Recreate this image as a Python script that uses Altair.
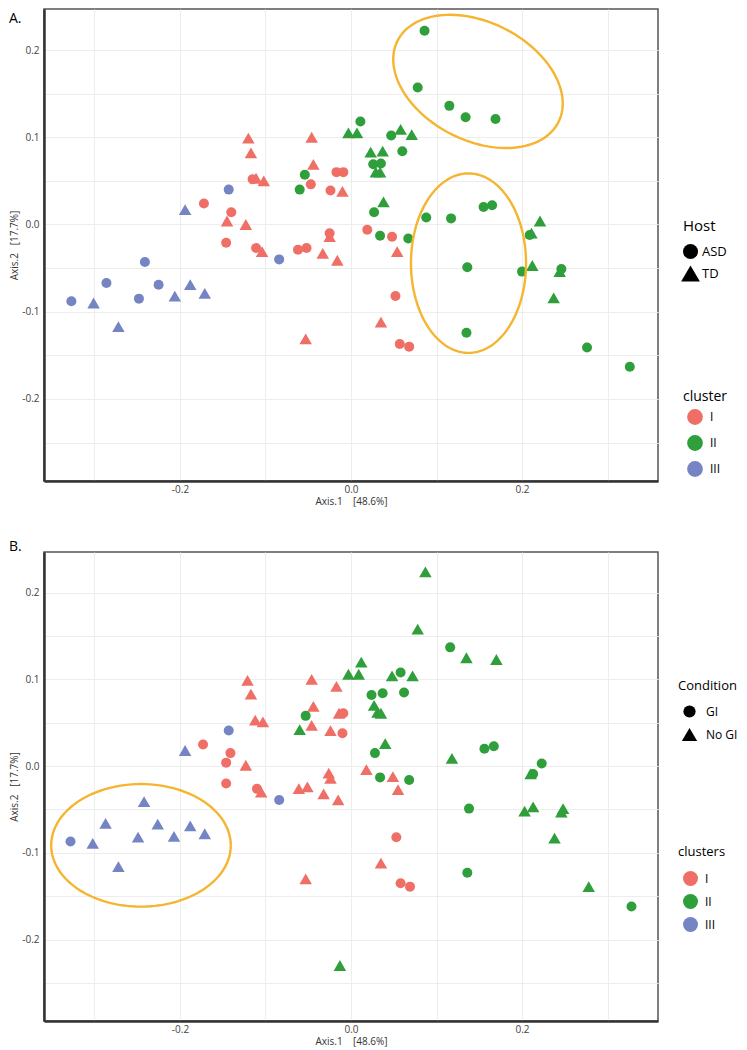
import numpy as np
import pandas as pd
import altair as alt

# ---------------- data ----------------
CLUSTERS = ["I", "II", "III"]
COLORS = ["#EF6F67", "#2E9F3B", "#7585C4"]
TRI = "M-1.25,1.08L1.25,1.08L0,-1.08Z"

# Panel A  (shape = Host)
A_x = [-0.120, -0.046, -0.117, -0.044, -0.017, -0.009, -0.115, -0.111, -0.102, -0.047,
       -0.024, -0.010, -0.172, -0.140, -0.145, -0.123, 0.019, -0.025, -0.025, -0.146,
       -0.111, -0.104, -0.062, -0.052, -0.033, -0.016, 0.048, 0.054, 0.052, 0.035,
       0.057, 0.068, -0.053,
       0.011, -0.003, 0.007, 0.023, 0.037, -0.054, -0.060, 0.027, 0.038, 0.034,
       0.086, 0.078, 0.115, 0.134, 0.169, 0.047, 0.058, 0.071, 0.060, 0.026,
       0.035, 0.029, 0.034, 0.088, 0.117, 0.155, 0.165, 0.067, 0.221, 0.211,
       0.209, 0.136, 0.200, 0.212, 0.244, 0.246, 0.237, 0.135, 0.276, 0.326,
       -0.143, -0.194, -0.084, -0.241, -0.286, -0.225, -0.188, -0.171, -0.206, -0.248,
       -0.327, -0.301, -0.272]
A_y = [0.099, 0.100, 0.082, 0.069, 0.060, 0.060, 0.052, 0.053, 0.050, 0.046,
       0.039, 0.038, 0.024, 0.014, 0.004, 0.000, -0.006, -0.010, -0.014, -0.021,
       -0.027, -0.031, -0.029, -0.027, -0.033, -0.041, -0.014, -0.031, -0.082, -0.112,
       -0.137, -0.140, -0.131,
       0.118, 0.105, 0.105, 0.083, 0.084, 0.057, 0.040, 0.014, 0.026, -0.013,
       0.222, 0.157, 0.136, 0.123, 0.121, 0.102, 0.109, 0.103, 0.084, 0.069,
       0.070, 0.060, 0.060, 0.008, 0.007, 0.020, 0.022, -0.016, 0.004, -0.010,
       -0.012, -0.049, -0.054, -0.047, -0.054, -0.051, -0.084, -0.124, -0.141, -0.163,
       0.040, 0.017, -0.040, -0.043, -0.067, -0.069, -0.069, -0.079, -0.082, -0.085,
       -0.088, -0.090, -0.117]
A_cluster = ["I"] * 33 + ["II"] * 40 + ["III"] * 13
A_host = ["TD", "TD", "TD", "TD", "ASD", "ASD", "ASD", "TD", "TD", "ASD",
          "ASD", "TD", "ASD", "ASD", "TD", "TD", "ASD", "ASD", "TD", "ASD",
          "ASD", "TD", "ASD", "ASD", "TD", "TD", "ASD", "TD", "ASD", "TD",
          "ASD", "ASD", "TD",
          "ASD", "TD", "TD", "TD", "TD", "ASD", "ASD", "ASD", "TD", "ASD",
          "ASD", "ASD", "ASD", "ASD", "ASD", "ASD", "TD", "TD", "ASD", "ASD",
          "ASD", "TD", "TD", "ASD", "ASD", "ASD", "ASD", "ASD", "TD", "TD",
          "ASD", "ASD", "ASD", "TD", "TD", "ASD", "TD", "ASD", "ASD", "ASD",
          "ASD", "TD", "ASD", "ASD", "ASD", "ASD", "TD", "TD", "TD", "ASD",
          "ASD", "TD", "TD"]

# Panel B  (shape = Condition)
B_x = [-0.121, -0.046, -0.017, -0.117, -0.044, -0.112, -0.103, -0.014, -0.009, -0.046,
       -0.024, -0.010, -0.173, -0.141, -0.146, -0.123, -0.026, -0.024, 0.018, -0.146,
       -0.110, -0.105, -0.061, -0.051, -0.032, -0.015, 0.049, 0.055, 0.053, 0.035,
       0.058, 0.069, -0.053,
       0.087, 0.078, 0.116, 0.135, 0.170, 0.012, -0.003, 0.009, 0.048, 0.058,
       0.072, -0.053, -0.060, 0.024, 0.037, 0.027, 0.031, 0.035, 0.062, 0.040,
       0.028, 0.156, 0.167, 0.118, 0.223, 0.210, 0.213, 0.034, 0.068, 0.138,
       0.203, 0.213, 0.246, 0.248, 0.238, 0.136, 0.278, 0.328, -0.013,
       -0.143, -0.194, -0.084, -0.242, -0.287, -0.226, -0.188, -0.171, -0.207, -0.249,
       -0.328, -0.302, -0.272]
B_y = [0.099, 0.100, 0.092, 0.083, 0.069, 0.053, 0.051, 0.061, 0.061, 0.047,
       0.041, 0.038, 0.025, 0.015, 0.004, 0.001, -0.008, -0.014, -0.004, -0.020,
       -0.026, -0.030, -0.026, -0.024, -0.032, -0.039, -0.012, -0.027, -0.082, -0.112,
       -0.135, -0.139, -0.130,
       0.224, 0.158, 0.137, 0.125, 0.123, 0.120, 0.106, 0.106, 0.104, 0.108,
       0.104, 0.058, 0.042, 0.082, 0.084, 0.070, 0.062, 0.061, 0.085, 0.026,
       0.015, 0.020, 0.023, 0.009, 0.003, -0.009, -0.009, -0.013, -0.016, -0.049,
       -0.052, -0.047, -0.053, -0.049, -0.083, -0.123, -0.139, -0.162, -0.230,
       0.041, 0.018, -0.039, -0.041, -0.066, -0.067, -0.069, -0.078, -0.081, -0.082,
       -0.087, -0.089, -0.116]
B_cluster = ["I"] * 33 + ["II"] * 39 + ["III"] * 13
B_cond = ["No GI", "No GI", "No GI", "No GI", "No GI", "No GI", "No GI", "No GI", "GI", "No GI",
          "No GI", "GI", "GI", "GI", "GI", "No GI", "No GI", "No GI", "No GI", "GI",
          "GI", "No GI", "No GI", "No GI", "No GI", "No GI", "No GI", "No GI", "GI", "No GI",
          "GI", "GI", "No GI",
          "No GI", "No GI", "GI", "No GI", "No GI", "No GI", "No GI", "No GI", "No GI", "GI",
          "No GI", "GI", "No GI", "GI", "GI", "No GI", "No GI", "No GI", "GI", "No GI",
          "GI", "GI", "GI", "No GI", "GI", "No GI", "GI", "GI", "GI", "GI",
          "No GI", "No GI", "No GI", "No GI", "No GI", "GI", "No GI", "GI", "No GI",
          "GI", "No GI", "GI", "No GI", "No GI", "No GI", "No GI", "No GI", "No GI", "No GI",
          "GI", "No GI", "No GI"]

# highlight ellipses: centre x, centre y, semi-axis a, semi-axis b, angle (deg)
ELL_A = [(0.1485, 0.164, 0.105, 0.068, -25.7), (0.1374, -0.0443, 0.0673, 0.1029, 0.0)]
ELL_B = [(-0.2456, -0.0914, 0.105, 0.0707, 0.0)]

X_DOMAIN = [-0.359, 0.359]
Y_DOMAIN = [-0.294, 0.247]
X_GRID = [-0.3, -0.2, -0.1, 0.0, 0.1, 0.2, 0.3]
Y_GRID = [-0.25, -0.2, -0.15, -0.1, -0.05, 0.0, 0.05, 0.1, 0.15, 0.2]

FONT = "Open Sans"


def ellipse_df(params):
    rows = []
    t = np.linspace(0, 2 * np.pi, 121)
    for i, (cx, cy, a, b, ang) in enumerate(params):
        p = np.deg2rad(ang)
        xs = cx + a * np.cos(t) * np.cos(p) - b * np.sin(t) * np.sin(p)
        ys = cy + a * np.cos(t) * np.sin(p) + b * np.sin(t) * np.cos(p)
        for k, (xx, yy) in enumerate(zip(xs, ys)):
            rows.append({"x": xx, "y": yy, "id": i, "k": k})
    return pd.DataFrame(rows)


LBL = "(datum.value < -0.001 ? '-' + format(-datum.value, '.1f') : format(abs(datum.value), '.1f'))"


def panel(df, ell, shape_field, shape_title, shape_domain, color_title,
          shape_leg, color_leg, tag, tag_x, tag_y, height):
    xenc = alt.X("x:Q", scale=alt.Scale(domain=X_DOMAIN, nice=False, zero=False),
                 title="Axis.1\u00a0\u00a0\u00a0\u00a0[48.6%]",
                 axis=alt.Axis(values=X_GRID, ticks=False, grid=True, gridColor="#EDEDED",
                               domainColor="#333333", domainWidth=2.5,
                               labelExpr="abs(round(datum.value*10)) % 2 == 0 ? " + LBL + " : ''",
                               labelFontSize=10, labelColor="#444444", labelPadding=3,
                               titleFontSize=10, titleFontWeight="normal", titleColor="#333333",
                               titlePadding=2, labelFont=FONT, titleFont=FONT))
    yenc = alt.Y("y:Q", scale=alt.Scale(domain=Y_DOMAIN, nice=False, zero=False),
                 title="Axis.2\u00a0\u00a0\u00a0[17.7%]",
                 axis=alt.Axis(values=Y_GRID, ticks=False, grid=True, gridColor="#EDEDED",
                               domainColor="#333333", domainWidth=2.5,
                               labelExpr="abs(datum.value*10 - round(datum.value*10)) < 0.01 ? " + LBL + " : ''",
                               labelFontSize=10, labelColor="#444444", labelPadding=5,
                               titleFontSize=10, titleFontWeight="normal", titleColor="#333333",
                               titlePadding=2, labelFont=FONT, titleFont=FONT))

    pts = alt.Chart(df).mark_point(filled=True, opacity=1, size=100, strokeWidth=0).encode(
        x=xenc, y=yenc,
        color=alt.Color("cluster:N", scale=alt.Scale(domain=CLUSTERS, range=COLORS),
                        legend=alt.Legend(title=color_title, orient="none", padding=0,
                                          symbolType="circle", symbolStrokeWidth=0,
                                          symbolOpacity=1, labelFont=FONT, titleFont=FONT,
                                          titleFontWeight="normal", titleColor="black",
                                          labelColor="black", **color_leg)),
        shape=alt.Shape(f"{shape_field}:N", scale=alt.Scale(domain=shape_domain, range=["circle", TRI]),
                        legend=alt.Legend(title=shape_title, orient="none", padding=0,
                                          symbolFillColor="black", symbolStrokeWidth=0,
                                          symbolOpacity=1, labelFont=FONT, titleFont=FONT,
                                          titleFontWeight="normal", titleColor="black",
                                          labelColor="black", **shape_leg)),
    )
    ring = alt.Chart(ell).mark_line(color="#F5B530", strokeWidth=2.4).encode(
        x=xenc, y=yenc, detail="id:N", order="k:Q")
    lab = alt.Chart(pd.DataFrame({"t": [tag]})).mark_text(
        align="left", baseline="top", fontSize=14, font=FONT, color="black").encode(
        text="t:N", x=alt.value(tag_x), y=alt.value(tag_y))
    return alt.layer(pts, ring, lab).properties(width=614, height=height)


dfA = pd.DataFrame({"x": A_x, "y": A_y, "cluster": A_cluster, "Host": A_host})
dfB = pd.DataFrame({"x": B_x, "y": B_y, "cluster": B_cluster, "Condition": B_cond})

chartA = panel(dfA, ellipse_df(ELL_A), "Host", "Host", ["ASD", "TD"], "cluster",
               dict(legendX=639, legendY=210, titleFontSize=15, labelFontSize=13,
                    symbolSize=225, rowPadding=6, titlePadding=10, labelOffset=4),
               dict(legendX=639, legendY=381, titleFontSize=14, labelFontSize=12,
                    symbolSize=250, rowPadding=10, titlePadding=5, labelOffset=7, symbolOffset=4),
               "A.", -35, 3, 472)
chartB = panel(dfB, ellipse_df(ELL_B), "Condition", "Condition", ["GI", "No GI"], "clusters",
               dict(legendX=634, legendY=128, titleFontSize=13, labelFontSize=12,
                    symbolSize=150, rowPadding=9, titlePadding=12, labelOffset=10, symbolOffset=5),
               dict(legendX=634, legendY=294, titleFontSize=13, labelFontSize=12,
                    symbolSize=225, rowPadding=8, titlePadding=12, labelOffset=7, symbolOffset=5),
               "B.", -35, -12, 469)

chart = alt.vconcat(chartA, chartB, spacing=32).resolve_scale(
    color="independent", shape="independent").properties(padding=0).configure_view(
    stroke="#555555", strokeWidth=1.5)

chart.save("out.html", embed_options={"renderer": "svg", "actions": False})
